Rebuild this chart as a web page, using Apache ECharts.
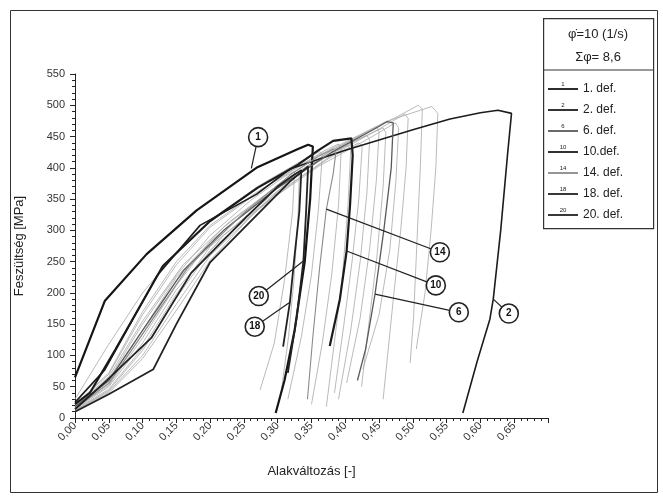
<!DOCTYPE html>
<html>
<head>
<meta charset="utf-8">
<script src="https://cdn.jsdelivr.net/npm/echarts@6/dist/echarts.min.js"></script>
<style>
  html, body { margin: 0; padding: 0; background: #fff; }
  #chart { width: 663px; height: 497px; }
</style>
</head>
<body>
<div id="chart"></div>
<script>
// strain [-], stress [MPa] pairs (loading, then unloading)
const def1 = [[0,65],[0.044,187],[0.106,262],[0.18,332],[0.27,401],[0.33,430],[0.345,437],[0.352,434],[0.348,350],[0.34,250],[0.325,140],[0.31,60],[0.297,8]];
const def2 = [[0,25],[0.044,77],[0.121,227],[0.185,308],[0.269,358],[0.318,398],[0.4,428],[0.5,461],[0.555,478],[0.6,488],[0.626,492],[0.646,487],[0.64,420],[0.63,300],[0.619,190],[0.614,158],[0.595,90],[0.574,8]];
const def6 = [[0,18],[0.05,60],[0.1,140],[0.16,235],[0.22,300],[0.3,368],[0.38,425],[0.44,460],[0.462,474],[0.471,472],[0.468,400],[0.457,300],[0.444,198],[0.43,110],[0.418,60]];
const def10 = [[0,22],[0.022,40],[0.06,110],[0.13,243],[0.2,315],[0.27,368],[0.33,405],[0.36,428],[0.382,443],[0.409,447],[0.411,420],[0.407,340],[0.402,267],[0.392,190],[0.377,115]];
const def14 = [[0,16],[0.05,55],[0.11,150],[0.17,245],[0.25,328],[0.32,390],[0.36,418],[0.382,430],[0.386,424],[0.382,390],[0.372,334],[0.362,240],[0.352,130],[0.344,30]];
const def18 = [[0,14],[0.047,60],[0.113,128],[0.172,232],[0.254,322],[0.3,370],[0.323,388],[0.335,396],[0.332,330],[0.325,260],[0.318,185],[0.308,114]];
const def20 = [[0,10],[0.05,38],[0.116,78],[0.15,150],[0.2,249],[0.254,308],[0.318,378],[0.345,402],[0.342,330],[0.338,251],[0.328,160],[0.315,72]];

const def3 = [[0,30],[0.05,118],[0.1,200],[0.15,265],[0.2,315],[0.27,370],[0.33,408],[0.362,426],[0.366,420],[0.36,330],[0.35,230],[0.335,130],[0.315,30]];
const def4 = [[0,18],[0.05,62],[0.1,150],[0.15,228],[0.2,292],[0.26,348],[0.31,386],[0.325,394],[0.322,330],[0.31,220],[0.295,120],[0.274,45]];
const def5 = [[0,15],[0.05,52],[0.1,128],[0.15,212],[0.2,282],[0.27,345],[0.34,400],[0.4,436],[0.432,452],[0.436,444],[0.432,360],[0.422,250],[0.408,140],[0.39,30]];
const def7 = [[0,20],[0.05,70],[0.1,165],[0.15,245],[0.2,305],[0.28,368],[0.36,420],[0.42,452],[0.446,466],[0.45,458],[0.446,380],[0.436,270],[0.422,160],[0.402,56]];
const def8 = [[0,12],[0.05,44],[0.1,108],[0.15,192],[0.2,268],[0.28,342],[0.36,402],[0.44,450],[0.474,472],[0.479,464],[0.475,380],[0.466,270],[0.45,165],[0.426,78]];
const def9 = [[0,14],[0.05,50],[0.1,120],[0.15,205],[0.22,292],[0.3,360],[0.38,420],[0.45,462],[0.488,486],[0.493,479],[0.49,400],[0.482,300],[0.472,200],[0.456,30]];
const def11 = [[0,17],[0.05,58],[0.1,140],[0.15,225],[0.22,305],[0.3,372],[0.38,428],[0.46,472],[0.508,500],[0.514,494],[0.511,400],[0.506,280],[0.501,160],[0.496,88]];
const def12 = [[0,19],[0.05,66],[0.1,155],[0.16,245],[0.23,315],[0.3,372],[0.38,428],[0.46,474],[0.528,498],[0.537,487],[0.534,400],[0.527,300],[0.518,200],[0.505,110]];
const def13 = [[0,21],[0.05,72],[0.1,170],[0.15,250],[0.2,308],[0.27,362],[0.33,402],[0.37,428],[0.39,438],[0.394,430],[0.39,340],[0.38,230],[0.366,120],[0.35,22]];
const def15 = [[0,13],[0.05,46],[0.1,112],[0.15,198],[0.2,274],[0.27,338],[0.33,388],[0.38,424],[0.404,436],[0.408,428],[0.404,340],[0.396,230],[0.386,140],[0.372,18]];
const def16 = [[0,16],[0.05,56],[0.1,134],[0.15,220],[0.22,300],[0.29,360],[0.35,405],[0.42,446],[0.456,464],[0.46,456],[0.456,370],[0.447,260],[0.437,170],[0.424,50]];
const def17 = [[0,11],[0.05,40],[0.1,95],[0.15,172],[0.2,252],[0.26,322],[0.31,372],[0.332,390],[0.33,320],[0.324,220],[0.316,130],[0.305,40]];
const def19 = [[0,12],[0.05,42],[0.1,100],[0.15,182],[0.2,260],[0.27,332],[0.33,382],[0.38,418],[0.42,440],[0.425,434],[0.42,350],[0.41,250],[0.398,150],[0.384,40]];

// circled callout numbers and the curve points their leaders touch
const calloutText = ['1', '2', '6', '10', '14', '18', '20'];
const calloutAt = [[0.271,449],[0.642,167],[0.568,169],[0.534,212],[0.54,265],[0.266,146],[0.272,195]];
const calloutTarget = [[0.261,399],[0.619,190],[0.444,198],[0.402,267],[0.372,334],[0.318,185],[0.338,251]];

const legendNames = ['1. def.', '2. def.', '6. def.', '10.def.', '14. def.', '18. def.', '20. def.'];
const legendTags = ['1', '2', '6', '10', '14', '18', '20'];

const FONT = 'Liberation Sans, Arial, sans-serif';

const mainDefs = [
  { data: def1, color: '#151515', width: 2.2 },
  { data: def2, color: '#1c1c1c', width: 1.6 },
  { data: def6, color: '#5a5a5a', width: 1.3 },
  { data: def10, color: '#1a1a1a', width: 2.2 },
  { data: def14, color: '#8a8a8a', width: 1.1 },
  { data: def18, color: '#222', width: 1.8 },
  { data: def20, color: '#222', width: 1.8 }
];
const greyDefs = [def3, def4, def5, def7, def8, def9, def11, def12, def13, def15, def16, def17, def19];

let series = [];
greyDefs.forEach(d => {
  series.push({
    type: 'line', data: d, symbol: 'none', silent: true, z: 1,
    lineStyle: { color: '#a8a8a8', width: 0.8 }
  });
});
mainDefs.forEach((m, i) => {
  series.push({
    name: legendNames[i], type: 'line', data: m.data, symbol: 'none', z: 3,
    lineStyle: { color: m.color, width: m.width },
    itemStyle: { color: m.color }
  });
});
series.push({
  type: 'lines', coordinateSystem: 'cartesian2d', silent: true, z: 5,
  data: calloutText.map((t, i) => ({ coords: [calloutAt[i], calloutTarget[i]] })),
  lineStyle: { color: '#222', width: 1.2, opacity: 1 }
});
series.push({
  type: 'scatter', silent: true, z: 6,
  data: calloutAt.map((p, i) => ({ value: p, name: calloutText[i] })),
  symbolSize: 19,
  itemStyle: { color: '#fff', borderColor: '#222', borderWidth: 1.6, opacity: 1 },
  label: { show: true, position: 'inside', formatter: p => p.name, fontSize: 10, fontWeight: 'bold', color: '#111', fontFamily: FONT }
});

// small numbers over the legend line icons
let legendGraphics = legendTags.map((t, i) => ({
  type: 'text', x: 563, y: 87 + i * 21, silent: true,
  style: { text: t, fontSize: 6, fill: '#222', fontFamily: FONT, textAlign: 'center', textVerticalAlign: 'bottom' }
}));

const myChart = echarts.init(document.getElementById('chart'));
myChart.setOption({
  animation: false,
  backgroundColor: '#fff',
  grid: { left: 75, right: 115, top: 74, bottom: 79 },
  xAxis: {
    type: 'value', min: 0, max: 0.7, interval: 0.05,
    name: 'Alakváltozás [-]', nameLocation: 'middle', nameGap: 47,
    nameTextStyle: { fontSize: 13, color: '#222', fontFamily: FONT },
    axisLine: { lineStyle: { color: '#222', width: 1 } },
    axisTick: { length: 5, lineStyle: { color: '#222' } },
    minorTick: { show: true, splitNumber: 5, length: 3, lineStyle: { color: '#222' } },
    splitLine: { show: false },
    axisLabel: {
      rotate: 45, fontSize: 11, color: '#333', fontFamily: FONT, margin: 6,
      formatter: v => v > 0.66 ? '' : v.toFixed(2).replace('.', ',')
    }
  },
  yAxis: {
    type: 'value', min: 0, max: 550, interval: 50,
    name: 'Feszültség [MPa]', nameLocation: 'middle', nameGap: 49, nameRotate: 90,
    nameTextStyle: { fontSize: 13, color: '#222', fontFamily: FONT },
    axisLine: { show: true, lineStyle: { color: '#222', width: 1 } },
    axisTick: { show: true, length: 5, lineStyle: { color: '#222' } },
    minorTick: { show: true, splitNumber: 5, length: 3, lineStyle: { color: '#222' } },
    splitLine: { show: false },
    axisLabel: { fontSize: 11, color: '#333', fontFamily: FONT, margin: 10 }
  },
  legend: {
    data: legendNames, orient: 'vertical', left: 543, top: 78,
    itemWidth: 30, itemHeight: 12, itemGap: 9,
    icon: 'path://M0,0L30,0L30,1.8L0,1.8Z',
    textStyle: { fontSize: 12, color: '#222', fontFamily: FONT }
  },
  graphic: [
    { type: 'rect', left: 8, top: 8, shape: { width: 647, height: 482 }, style: { fill: 'none', stroke: '#333', lineWidth: 1 }, silent: true },
    { type: 'rect', left: 543, top: 18, shape: { width: 110, height: 210 }, style: { fill: '#fff', stroke: '#333', lineWidth: 1.2 }, silent: true, z: -1 },
    { type: 'line', shape: { x1: 543, y1: 70, x2: 653, y2: 70 }, style: { stroke: '#333', lineWidth: 1.2 }, silent: true },
    { type: 'text', x: 598, y: 34, silent: true, style: { text: 'φ̇=10 (1/s)', fontSize: 13, fill: '#222', fontFamily: FONT, textAlign: 'center', textVerticalAlign: 'middle' } },
    { type: 'text', x: 598, y: 57, silent: true, style: { text: 'Σφ= 8,6', fontSize: 13, fill: '#222', fontFamily: FONT, textAlign: 'center', textVerticalAlign: 'middle' } }
  ].concat(legendGraphics),
  series: series
});
</script>
</body>
</html>
